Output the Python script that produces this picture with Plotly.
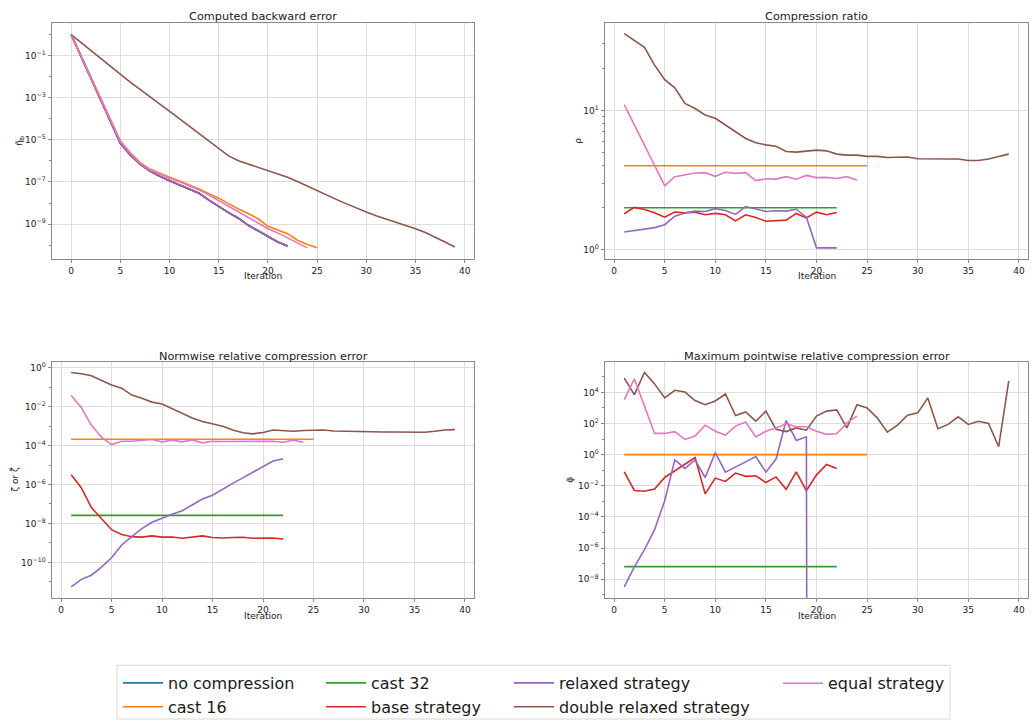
import plotly.graph_objects as go

W, H = 1033, 724
FONT = "DejaVu Sans"
TEXT = "#1a1a1a"

# ---------------- data ----------------
series_names = ["no compression", "cast 16", "cast 32", "base strategy",
                "relaxed strategy", "double relaxed strategy", "equal strategy"]
series_colors = ["#1f77b4", "#ff7f0e", "#2ca02c", "#d62728",
                 "#9467bd", "#8c564b", "#e377c2"]
series_legend = ["legend", "legend", "legend2", "legend2",
                 "legend3", "legend3", "legend4"]

# Computed backward error (iterations start at 0)
backward_relaxed = [1.0, 9.3e-2, 8.7e-3, 7.9e-4, 7.4e-5, 6.9e-6, 1.9e-6, 7.1e-7, 3.3e-7, 1.86e-7,
                    1.15e-7, 7.2e-8, 4.6e-8, 2.9e-8, 1.38e-8, 6.8e-9, 3.5e-9, 1.9e-9, 8.7e-10,
                    4.8e-10, 2.7e-10, 1.4e-10, 9.1e-11]
backward_no_compression = backward_relaxed
backward_cast32 = backward_relaxed
backward_base = backward_relaxed
backward_cast16 = [1.0, 1.0e-1, 1.0e-2, 1.0e-3, 1.0e-4, 8.9e-6, 2.5e-6, 8.5e-7, 4.1e-7, 2.5e-7,
                   1.66e-7, 1.1e-7, 7.4e-8, 4.7e-8, 2.8e-8, 1.7e-8, 9.3e-9, 5.2e-9, 3.2e-9,
                   1.78e-9, 7.8e-10, 5.0e-10, 3.5e-10, 1.7e-10, 1.07e-10, 7.4e-11]
backward_equal = [1.0, 1.0e-1, 1.0e-2, 1.0e-3, 1.0e-4, 8.3e-6, 2.3e-6, 7.9e-7, 3.8e-7, 2.3e-7,
                  1.5e-7, 1.02e-7, 6.8e-8, 4.2e-8, 2.4e-8, 1.32e-8, 7.1e-9, 3.7e-9, 2.1e-9,
                  1.12e-9, 6.0e-10, 3.8e-10, 2.2e-10, 1.26e-10, 7.4e-11]
backward_double_relaxed = [1.0, 4.2e-1, 1.7e-1, 7.2e-2, 3.0e-2, 1.26e-2, 5.6e-3, 2.5e-3, 1.15e-3,
                           5.1e-4, 2.3e-4, 1.02e-4, 4.5e-5, 2.0e-5, 8.5e-6, 3.6e-6, 1.74e-6,
                           1.02e-6, 7.1e-7, 4.8e-7, 3.2e-7, 2.3e-7, 1.66e-7, 1.05e-7, 6.3e-8,
                           3.9e-8, 2.3e-8, 1.45e-8, 9.1e-9, 5.6e-9, 3.7e-9, 2.5e-9, 1.78e-9,
                           1.26e-9, 8.7e-10, 6.0e-10, 4.0e-10, 2.45e-10, 1.4e-10, 8.1e-11]

# Compression ratio (iterations start at 1)
ratio_cast16 = [4.0] * 25
ratio_cast32 = [2.0] * 22
ratio_base = [1.81, 2.01, 1.94, 1.84, 1.71, 1.86, 1.84, 1.86, 1.78, 1.82, 1.78, 1.61, 1.78,
              1.70, 1.60, 1.62, 1.63, 1.82, 1.69, 1.86, 1.78, 1.85]
ratio_relaxed = [1.34, 1.37, 1.40, 1.44, 1.51, 1.74, 1.83, 1.89, 1.88, 1.97, 1.91, 1.79, 2.04,
                 1.95, 1.88, 1.90, 1.89, 1.95, 1.71, 1.03, 1.03, 1.03]
ratio_double_relaxed = [35.5, 31.8, 28.3, 21.1, 16.6, 14.5, 11.2, 10.3, 9.26, 8.77, 7.86, 7.04,
                        6.28, 5.85, 5.65, 5.53, 5.07, 5.01, 5.12, 5.18, 5.12, 4.85, 4.77, 4.77,
                        4.67, 4.67, 4.59, 4.59, 4.62, 4.49, 4.47, 4.47, 4.47, 4.47, 4.37, 4.37,
                        4.47, 4.67, 4.85]
ratio_equal = [11.0, 7.88, 5.64, 4.03, 2.88, 3.34, 3.45, 3.55, 3.57, 3.36, 3.59, 3.53, 3.57,
               3.13, 3.23, 3.21, 3.34, 3.20, 3.41, 3.29, 3.30, 3.24, 3.34, 3.16]

# Normwise relative compression error
normwise_cast16 = [2.1e-4] * 25
normwise_cast32 = [2.6e-8] * 22
normwise_base = [3.2e-6, 6.9e-7, 6.6e-8, 1.7e-8, 4.8e-9, 2.7e-9, 2.1e-9, 2.0e-9, 2.3e-9, 2.0e-9,
                 2.0e-9, 1.74e-9, 1.95e-9, 2.3e-9, 1.9e-9, 1.8e-9, 1.9e-9, 1.95e-9, 1.74e-9,
                 1.74e-9, 1.8e-9, 1.6e-9]
normwise_relaxed = [5.5e-12, 1.35e-11, 2.2e-11, 5.8e-11, 1.74e-10, 7.9e-10, 2.1e-9, 5.4e-9,
                    1.15e-8, 1.9e-8, 3.0e-8, 4.5e-8, 9.1e-8, 1.8e-7, 2.8e-7, 5.8e-7, 1.15e-6,
                    2.2e-6, 4.4e-6, 8.5e-6, 1.6e-5, 2.1e-5]
normwise_double_relaxed = [5.6e-1, 4.9e-1, 3.8e-1, 2.3e-1, 1.3e-1, 8.8e-2, 3.9e-2, 2.7e-2, 1.7e-2,
                           1.35e-2, 7.8e-3, 4.5e-3, 2.6e-3, 1.7e-3, 1.29e-3, 9.8e-4, 6.3e-4,
                           4.5e-4, 4.0e-4, 4.7e-4, 6.3e-4, 5.6e-4, 5.4e-4, 5.9e-4, 6.2e-4,
                           6.3e-4, 5.6e-4, 5.4e-4, 5.2e-4, 5.0e-4, 5.0e-4, 5.0e-4, 5.0e-4,
                           5.0e-4, 5.0e-4, 4.8e-4, 5.4e-4, 6.3e-4, 6.6e-4]
normwise_equal = [3.7e-2, 9.1e-3, 1.1e-3, 2.7e-4, 1.12e-4, 1.66e-4, 1.66e-4, 1.9e-4, 2.04e-4,
                  1.55e-4, 1.9e-4, 1.55e-4, 1.95e-4, 1.38e-4, 1.66e-4, 1.62e-4, 1.62e-4,
                  1.55e-4, 1.66e-4, 1.62e-4, 1.66e-4, 1.48e-4, 1.9e-4, 1.48e-4]

# Maximum pointwise relative compression error
pointwise_cast16 = [1.0] * 25
pointwise_cast32 = [6.4e-8] * 22
pointwise_base = [7.8e-2, 5.0e-3, 4.4e-3, 6.2e-3, 3.4e-2, 9.1e-2, 2.7e-1, 6.5e-1, 3.0e-3, 3.1e-2,
                  1.9e-2, 6.5e-2, 4.0e-2, 4.4e-2, 1.6e-2, 3.7e-2, 5.9e-3, 7.8e-2, 4.8e-3,
                  5.0e-2, 2.3e-1, 1.3e-1]
pointwise_relaxed = [3.2e-9, 6.2e-8, 7.8e-7, 1.5e-5, 1.1e-3, 4.6e-1, 1.3e-1, 4.6e-1, 3.4e-2,
                     1.35, 7.4e-2, 1.5e-1, 3.4e-1, 7.4e-1, 7.4e-2, 5.2e-1, 1.55e2, 8.1, 1.4e1,
                     0.0, 0.0, 0.0]
pointwise_double_relaxed = [8.1e4, 7.1e3, 1.9e5, 3.5e4, 4.4e3, 1.35e4, 1.05e4, 3.0e3, 1.6e3,
                            2.8e3, 7.8e3, 3.2e2, 5.5e2, 1.4e2, 6.2e2, 4.2e1, 3.0e1, 5.2e1,
                            3.7e1, 3.0e2, 6.2e2, 7.4e2, 5.2e1, 1.6e3, 1.0e3, 2.3e2, 2.8e1,
                            7.8e1, 3.4e2, 4.8e2, 4.4e3, 4.6e1, 8.7e1, 2.7e2, 8.7e1, 1.4e2,
                            1.0e2, 3.2, 5.5e4]
pointwise_equal = [3.4e3, 7.4e4, 1.3e3, 2.3e1, 2.3e1, 3.0e1, 9.5, 1.55e1, 7.8e1, 3.2e1, 1.8e1,
                   6.8e1, 1.23e2, 1.35e1, 3.2e1, 5.2e1, 9.5e1, 6.2e1, 6.2e1, 3.2e1, 2.0e1,
                   2.2e1, 1.1e2, 3.0e2]

x_ticks = [0, 5, 10, 15, 20, 25, 30, 35, 40]

# panel: (title, y label, first iteration, {series: values})
panels = [
    ("Computed backward error", "η̃<sub>b</sub>", 0, {
        "no compression": backward_no_compression, "cast 16": backward_cast16,
        "cast 32": backward_cast32, "base strategy": backward_base,
        "relaxed strategy": backward_relaxed, "double relaxed strategy": backward_double_relaxed,
        "equal strategy": backward_equal}),
    ("Compression ratio", "ρ", 1, {
        "cast 16": ratio_cast16, "cast 32": ratio_cast32, "base strategy": ratio_base,
        "relaxed strategy": ratio_relaxed, "double relaxed strategy": ratio_double_relaxed,
        "equal strategy": ratio_equal}),
    ("Normwise relative compression error", "ζ or ζ̃", 1, {
        "cast 16": normwise_cast16, "cast 32": normwise_cast32, "base strategy": normwise_base,
        "relaxed strategy": normwise_relaxed, "double relaxed strategy": normwise_double_relaxed,
        "equal strategy": normwise_equal}),
    ("Maximum pointwise relative compression error", "φ̃", 1, {
        "cast 16": pointwise_cast16, "cast 32": pointwise_cast32, "base strategy": pointwise_base,
        "relaxed strategy": pointwise_relaxed, "double relaxed strategy": pointwise_double_relaxed,
        "equal strategy": pointwise_equal}),
]

# axes boxes in pixels: (left, right, top, bottom)
boxes = [(52, 474, 23, 260), (605, 1028, 23, 260), (52, 474, 364, 601), (605, 1028, 364, 601)]
x_ranges = [[-1.95, 40.95], [-0.9, 40.9], [-0.9, 40.9], [-0.9, 40.9]]
y_ranges = [[-10.64, 0.56], [-0.064, 1.628], [-11.81, 0.29], [-9.19, 5.95]]
y_exponents = [[-9, -7, -5, -3, -1], [0, 1], [-10, -8, -6, -4, -2, 0], [-8, -6, -4, -2, 0, 2, 4]]
y_minor = [[1e-10, 1e-8, 1e-6, 1e-4, 1e-2, 1.0],
           [2, 3, 4, 5, 6, 7, 8, 9, 20, 30],
           [1e-11, 1e-9, 1e-7, 1e-5, 1e-3, 1e-1],
           [1e-9, 1e-7, 1e-5, 1e-3, 1e-1, 1e1, 1e3, 1e5]]
ylabel_x = [20, 578, 15, 570]


def px(x):
    return x / W


def py(y):
    return 1 - y / H


def sup_label(e):
    return "10<sup>%s</sup>" % str(e).replace("-", "−")


fig = go.Figure()
shown = set()
annotations = []
SPINE = "#8a8a8a"
GRID = "#dcdcdc"

for i, (title, ylabel, start, data) in enumerate(panels):
    ax = "" if i == 0 else str(i + 1)
    for name, color, leg in zip(series_names, series_colors, series_legend):
        if name not in data:
            continue
        vals = data[name]
        # non-positive values cannot sit on a log axis: clip them far below the view
        yv = [v if v > 0 else 1e-300 for v in vals]
        xv = list(range(start, start + len(vals)))
        fig.add_trace(go.Scatter(
            x=xv, y=yv, mode="lines", name=name,
            line=dict(color=color, width=1.6),
            xaxis="x" + ax, yaxis="y" + ax, legend=leg,
            showlegend=name not in shown, hoverinfo="skip"))
        shown.add(name)

    l, r, t, b = boxes[i]
    common = dict(showline=True, mirror=True, linecolor=SPINE, linewidth=1,
                  showgrid=True, gridcolor=GRID, gridwidth=1, zeroline=False,
                  ticks="outside", ticklen=3.5, tickwidth=1, tickcolor=SPINE,
                  tickfont=dict(family=FONT, size=9, color=TEXT))
    fig.layout["xaxis" + ax] = dict(
        common, domain=[px(l), px(r)], range=x_ranges[i], anchor="y" + ax,
        tickmode="array", tickvals=x_ticks)
    fig.layout["yaxis" + ax] = dict(
        common, domain=[py(b), py(t)], type="log", range=y_ranges[i], anchor="x" + ax,
        tickmode="array", tickvals=[10.0 ** e for e in y_exponents[i]],
        ticktext=[sup_label(e) for e in y_exponents[i]],
        minor=dict(tickmode="array", tickvals=y_minor[i], ticks="outside", ticklen=2,
                   tickwidth=0.8, tickcolor=SPINE, showgrid=False))

    cx = (l + r) / 2
    annotations.append(dict(text=title, x=px(cx), y=py(t - 6), xref="paper", yref="paper",
                            xanchor="center", yanchor="middle", showarrow=False,
                            font=dict(family=FONT, size=11.3, color=TEXT)))
    annotations.append(dict(text="Iteration", x=px(cx), y=py(b + 18), xref="paper", yref="paper",
                            xanchor="center", yanchor="middle", showarrow=False,
                            font=dict(family=FONT, size=9, color=TEXT)))
    annotations.append(dict(text=ylabel, x=px(ylabel_x[i]), y=py((t + b) / 2), xref="paper",
                            yref="paper", xanchor="center", yanchor="middle", showarrow=False,
                            textangle=-90, font=dict(family=FONT, size=9, color=TEXT)))

# legend: four columns framed by one box
legend_font = dict(family=FONT, size=16, color=TEXT)
col_text_x = [168, 371, 559, 828]
for k, key in enumerate(["legend", "legend2", "legend3", "legend4"]):
    fig.layout[key] = dict(x=px(col_text_x[k] - 50), y=py(670), xanchor="left", yanchor="top",
                           orientation="v", bgcolor="rgba(0,0,0,0)", borderwidth=0,
                           font=legend_font, itemwidth=40, tracegroupgap=0,
                           itemclick=False, itemdoubleclick=False)

fig.add_shape(type="rect", xref="paper", yref="paper",
              x0=px(117), x1=px(950), y0=py(723), y1=py(669),
              line=dict(color="#d6d6d6", width=1), fillcolor="rgba(255,255,255,0)")

fig.update_layout(width=W, height=H, margin=dict(l=0, r=0, t=0, b=0),
                  paper_bgcolor="white", plot_bgcolor="white",
                  annotations=annotations, font=dict(family=FONT, color=TEXT))

fig.write_html("out.html")
